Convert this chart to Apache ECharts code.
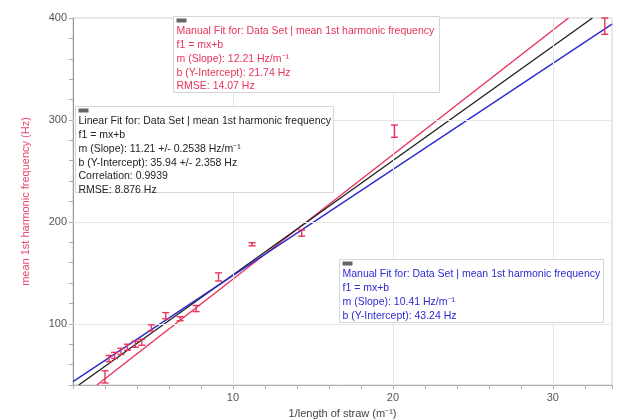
<!DOCTYPE html>
<html>
<head>
<meta charset="utf-8">
<script src="https://cdn.jsdelivr.net/npm/echarts@6/dist/echarts.min.js"></script>
<style>
  html, body { margin: 0; padding: 0; background: #fff; }
  #chart { width: 620px; height: 420px; }
</style>
</head>
<body>
<div id="chart"></div>
<script>
// data: 1/length of straw (m^-1) vs mean 1st harmonic frequency (Hz)
const invLength = [2.0, 2.25, 2.6, 3.0, 3.4, 3.9, 4.3, 4.9, 5.8, 6.7, 7.7, 9.1, 11.2, 14.3, 20.1, 33.25];
const meanFreq = [48, 66, 69, 73, 77, 80, 82, 96, 108, 105, 115, 146, 178, 189, 289, 392];
const freqErr = [6, 3, 3, 3, 3, 3, 3, 3, 3, 2, 3, 4, 1.5, 3, 6, 8];

// fits shown on the graph (red manual, black linear, blue manual)
const fitSlopes = [12.21, 11.21, 10.41];
const fitIntercepts = [21.74, 35.94, 43.24];
const fitColors = ["#e8335a", "#222222", "#2b2bd0"];

// axis ranges and tick labels
const xRange = [0, 33.7];
const yRange = [40, 400];
const xLabels = [10, 20, 30];
const yLabels = [100, 200, 300, 400];

const red = "#e8335a";
const font = "Liberation Sans, Arial, sans-serif";

var el = document.getElementById("chart");
var chart = echarts.init(el);

// endpoints of a fit line, kept inside the plot box
function fitLine(m, b) {
  const x0 = Math.max(xRange[0], (yRange[0] - b) / m);
  const x1 = Math.min(xRange[1], (yRange[1] - b) / m);
  return [[x0, m * x0 + b], [x1, m * x1 + b]];
}

const fitSeries = fitSlopes.map((m, i) => ({
  type: "line",
  data: fitLine(m, fitIntercepts[i]),
  symbol: "none",
  silent: true,
  lineStyle: { color: fitColors[i], width: 1.4 },
  z: 3,
}));

// small annotation box: frame, grey handle, text lines
function box(left, top, width, height, lines, color) {
  return {
    type: "group",
    left: left,
    top: top,
    z: 100,
    children: [
      {
        type: "rect",
        z: 100,
        shape: { x: 0, y: 0, width: width, height: height },
        style: { fill: "#fff", stroke: "#d6d6d6", lineWidth: 1 },
      },
      {
        type: "rect",
        z: 101,
        shape: { x: 3, y: 2, width: 10, height: 4 },
        style: { fill: "#666" },
      },
      {
        type: "text",
        z: 101,
        x: 3,
        y: 8,
        style: {
          text: lines.join("\n"),
          fill: color,
          font: "10.5px " + font,
          lineHeight: 13.8,
        },
      },
    ],
  };
}

var option = {
  animation: false,
  grid: {
    left: 73,
    right: 8,
    top: 18,
    bottom: 35,
    outerBoundsMode: "none",
    show: true,
    borderColor: "#d0d0d0",
    borderWidth: 1,
  },
  xAxis: {
    type: "value",
    min: xRange[0],
    max: xRange[1],
    interval: 2,
    name: "1/length of straw (m\u207B\u00B9)",
    nameLocation: "middle",
    nameGap: 23,
    nameTextStyle: { color: "#444", fontSize: 11, fontFamily: font },
    axisLine: { show: true, lineStyle: { color: "#b0b0b0" } },
    axisTick: { show: true, length: 4, lineStyle: { color: "#b0b0b0" } },
    axisLabel: {
      color: "#555",
      fontSize: 11,
      fontFamily: font,
      margin: 7,
      formatter: (v) => (xLabels.includes(v) ? String(v) : ""),
    },
    splitLine: { show: false },
  },
  yAxis: {
    type: "value",
    min: yRange[0],
    max: yRange[1],
    interval: 20,
    name: "mean 1st harmonic frequency (Hz)",
    nameLocation: "middle",
    nameGap: 42,
    nameTextStyle: { color: "#e8456a", fontSize: 11, fontFamily: font },
    axisLine: { show: true, lineStyle: { color: "#999" } },
    axisTick: { show: true, length: 4, lineStyle: { color: "#aaa" } },
    axisLabel: {
      color: "#555",
      fontSize: 11,
      fontFamily: font,
      margin: 6,
      formatter: (v) => (yLabels.includes(v) ? String(v) : ""),
    },
    splitLine: { show: false },
  },
  series: [
    // light grid lines at the labelled values
    {
      type: "line",
      data: [],
      silent: true,
      markLine: {
        silent: true,
        symbol: "none",
        label: { show: false },
        lineStyle: { color: "#e6e6e6", type: "solid", width: 1 },
        data: xLabels.map((v) => ({ xAxis: v })).concat(
          yLabels.filter((v) => v < yRange[1]).map((v) => ({ yAxis: v }))
        ),
      },
      z: 1,
    },
    ...fitSeries,
    // data points with vertical error bars
    {
      type: "custom",
      data: invLength.map((x, i) => [x, meanFreq[i], freqErr[i]]),
      z: 5,
      renderItem: function (params, api) {
        const x = api.value(0);
        const y = api.value(1);
        const e = api.value(2);
        const hi = api.coord([x, y + e]);
        const lo = api.coord([x, y - e]);
        const w = 3.5;
        const st = { stroke: red, lineWidth: 1.4 };
        return {
          type: "group",
          children: [
            { type: "line", shape: { x1: hi[0], y1: hi[1], x2: lo[0], y2: lo[1] }, style: st },
            { type: "line", shape: { x1: hi[0] - w, y1: hi[1], x2: hi[0] + w, y2: hi[1] }, style: st },
            { type: "line", shape: { x1: lo[0] - w, y1: lo[1], x2: lo[0] + w, y2: lo[1] }, style: st },
          ],
        };
      },
    },
  ],
  graphic: [
    box(173, 16, 266, 76, [
      "Manual Fit for: Data Set | mean 1st harmonic frequency",
      "f1 = mx+b",
      "m (Slope): 12.21 Hz/m\u207B\u00B9",
      "b (Y-Intercept): 21.74 Hz",
      "RMSE: 14.07 Hz",
    ], red),
    box(75, 106, 258, 86, [
      "Linear Fit for: Data Set | mean 1st harmonic frequency",
      "f1 = mx+b",
      "m (Slope): 11.21 +/- 0.2538 Hz/m\u207B\u00B9",
      "b (Y-Intercept): 35.94 +/- 2.358 Hz",
      "Correlation: 0.9939",
      "RMSE: 8.876 Hz",
    ], "#222"),
    box(339, 259, 264, 63, [
      "Manual Fit for: Data Set | mean 1st harmonic frequency",
      "f1 = mx+b",
      "m (Slope): 10.41 Hz/m\u207B\u00B9",
      "b (Y-Intercept): 43.24 Hz",
    ], "#2b2bd0"),
  ],
};

chart.setOption(option);

window.addEventListener("resize", () => {
  chart.resize();
});
</script>
</body>
</html>
